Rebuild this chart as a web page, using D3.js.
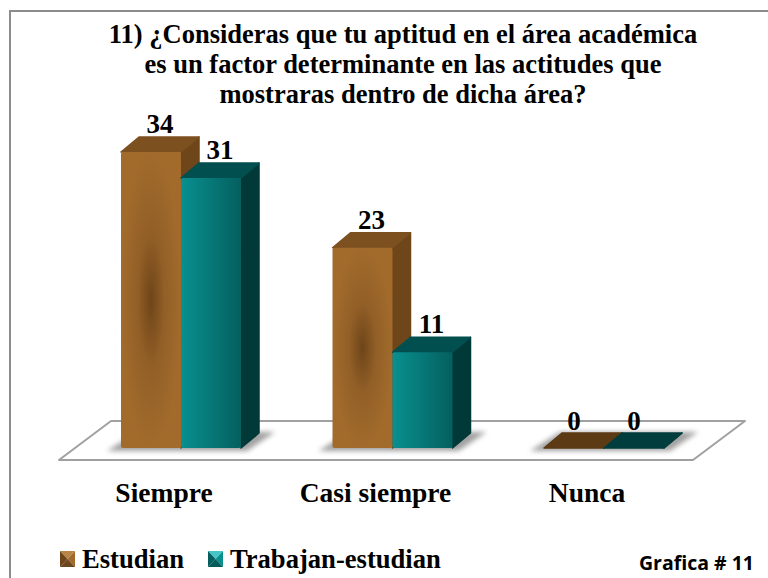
<!DOCTYPE html>
<html>
<head>
<meta charset="utf-8">
<script src="https://cdn.jsdelivr.net/npm/d3@7"></script>
<style>
html, body { margin: 0; padding: 0; background: #fff; }
svg { display: block; }
text { font-family: "Liberation Serif", serif; font-weight: bold; fill: #000; }
</style>
</head>
<body>
<svg id="chart" width="768" height="578"></svg>
<script>
const categories = ["Siempre", "Casi siempre", "Nunca"];
const seriesNames = ["Estudian", "Trabajan-estudian"];
const estudian = [34, 23, 0];
const trabajan = [31, 11, 0];
const titleLines = [
	"11) ¿Consideras que tu aptitud en el área académica",
	"es un factor determinante en las actitudes que",
	"mostraras dentro de dicha área?",
];
const caption = "Grafica # 11";

const svg = d3.select("#chart");
const defs = svg.append("defs");

const depthX = 18;
const depthY = 15;

// left edge of each pair of bars
const x0 = d3.scalePoint().domain(categories).range([121, 544]);
const x1 = d3.scaleBand().domain(seriesNames).range([0, 120]);
const y = d3.scaleLinear().domain([0, 34]).range([448, 152]);

const palette = [
	{ edge: "#a26b2c", mid: "#6e4519", side: "#6f4619", top: "#7d5020", zero: "#5c3a14", light: "#b98546", dark: "#6d4520" },
	{ edge: "#08908f", mid: "#055f5f", side: "#013838", top: "#024f4f", zero: "#023d3d", light: "#45c6c6", dark: "#055a5a" },
];

// front of the brown bars has a dark spot in the middle
const brown = defs.append("radialGradient").attr("id", "front0").attr("cx", "50%").attr("cy", "50%").attr("r", "50%");
brown.append("stop").attr("offset", "0%").attr("stop-color", palette[0].mid);
brown.append("stop").attr("offset", "45%").attr("stop-color", "#925f27");
brown.append("stop").attr("offset", "100%").attr("stop-color", palette[0].edge);

const teal = defs.append("linearGradient").attr("id", "front1");
teal.append("stop").attr("offset", "0%").attr("stop-color", palette[1].edge);
teal.append("stop").attr("offset", "100%").attr("stop-color", palette[1].mid);

defs.append("filter").attr("id", "blur").attr("x", "-20%").attr("y", "-100%").attr("width", "140%").attr("height", "300%")
	.append("feGaussianBlur").attr("stdDeviation", 2.5);

// outer frame, only top and left are visible
svg.append("path")
	.attr("d", d3.line()([[10, 578], [10, 11], [768, 11]]))
	.attr("fill", "none").attr("stroke", "#8c8c8c").attr("stroke-width", 2);

// title
svg.append("g").selectAll("text").data(titleLines).join("text")
	.attr("x", 403)
	.attr("y", (d, i) => 43 + i * 30)
	.attr("text-anchor", "middle")
	.attr("font-size", 26.5)
	.text((d) => d);

// floor
const floorFront = 460;
const floorBack = 421;
const floorLine = d3.line();
svg.append("path")
	.attr("d", floorLine([[59, floorFront], [111, floorBack], [745, floorBack], [693, floorFront]]) + "Z")
	.attr("fill", "#fff").attr("stroke", "#a0a0a0").attr("stroke-width", 2).attr("stroke-linejoin", "round");

const rows = categories.map((c, i) => [
	{ cat: c, s: 0, value: estudian[i] },
	{ cat: c, s: 1, value: trabajan[i] },
]);

const groups = svg.append("g").selectAll("g").data(rows).join("g");

// soft shadow on the floor
groups.append("path")
	.attr("d", (d) => {
		const left = x0(d[0].cat);
		const right = left + 120;
		const top = y(0) - depthY - 1;
		return floorLine([[left - 14, y(0) + 3], [right + 6, y(0) + 3], [right + depthX + 16, top], [left + depthX - 2, top]]) + "Z";
	})
	.attr("fill", "#8a8a8a").attr("filter", "url(#blur)").attr("opacity", 0.8);

const bars = groups.selectAll("g.bar").data((d) => d).join("g").attr("class", "bar");
const barX = (d) => x0(d.cat) + x1(seriesNames[d.s]);
const barW = x1.bandwidth();

// right side
bars.append("path")
	.attr("d", (d) => {
		const a = barX(d) + barW;
		return floorLine([[a, y(d.value)], [a + depthX, y(d.value) - depthY], [a + depthX, y(0) - depthY], [a, y(0)]]) + "Z";
	})
	.attr("fill", (d) => palette[d.s].side)
	.attr("stroke", (d) => palette[d.s].side)
	.attr("stroke-width", 1.5).attr("stroke-linejoin", "round");

// top
bars.append("path")
	.attr("d", (d) => {
		const a = barX(d);
		return floorLine([[a, y(d.value)], [a + depthX, y(d.value) - depthY], [a + barW + depthX, y(d.value) - depthY], [a + barW, y(d.value)]]) + "Z";
	})
	.attr("fill", (d) => d.value === 0 ? palette[d.s].zero : palette[d.s].top)
	.attr("stroke", (d) => d.value === 0 ? palette[d.s].zero : palette[d.s].top)
	.attr("stroke-width", 1.5).attr("stroke-linejoin", "round");

// front
bars.filter((d) => d.value > 0).append("rect")
	.attr("x", barX)
	.attr("y", (d) => y(d.value))
	.attr("width", barW)
	.attr("height", (d) => y(0) - y(d.value))
	.attr("rx", 2)
	.attr("fill", (d) => `url(#front${d.s})`);

// value labels, the zero ones sit over the front edge
bars.append("text")
	.attr("x", (d) => barX(d) + barW / 2 + (d.value === 0 ? 0 : depthX / 2))
	.attr("y", (d) => y(d.value) - depthY - (d.value === 0 ? 3 : 4))
	.attr("text-anchor", "middle")
	.attr("font-size", 27)
	.text((d) => d.value);

// category labels
svg.append("g").selectAll("text").data(categories).join("text")
	.attr("x", (d) => x0(d) + 43)
	.attr("y", 502)
	.attr("text-anchor", "middle")
	.attr("font-size", 27.5)
	.text((d) => d);

// legend
const legendX = [60, 208];
const legend = svg.append("g").selectAll("g").data(seriesNames).join("g")
	.attr("transform", (d, i) => `translate(${legendX[i]},551)`);
// swatches are little pyramids, four triangles around a centre point
const swatchW = 15;
const swatchH = 16;
const swatchFaces = (d, i) => {
	const c = [swatchW / 2, swatchH / 2];
	return [
		{ pts: [[0, 0], [swatchW, 0], c], fill: palette[i].light },
		{ pts: [[swatchW, 0], [swatchW, swatchH], c], fill: palette[i].edge },
		{ pts: [[swatchW, swatchH], [0, swatchH], c], fill: palette[i].dark },
		{ pts: [[0, swatchH], [0, 0], c], fill: palette[i].mid },
	];
};
legend.selectAll("path").data(swatchFaces).join("path")
	.attr("d", (f) => floorLine(f.pts) + "Z")
	.attr("fill", (f) => f.fill);
legend.append("text")
	.attr("x", 22)
	.attr("y", 17)
	.attr("font-size", 26.6)
	.text((d) => d);

svg.append("text")
	.attr("x", 754).attr("y", 570)
	.attr("text-anchor", "end")
	.attr("font-size", 19.5)
	.style("font-family", "'Open Sans', sans-serif")
	.text(caption);
</script>
</body>
</html>
